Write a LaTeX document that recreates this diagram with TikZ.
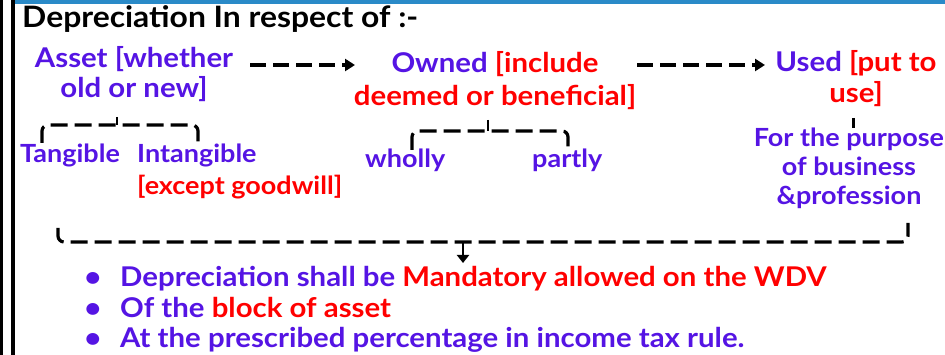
\documentclass[tikz,border=0pt]{standalone}
\usepackage{fontspec}
\setmainfont{Lato}[FakeStretch=1.08]
\usetikzlibrary{arrows.meta}
\definecolor{pur}{RGB}{85,20,228}
\definecolor{rd}{RGB}{255,0,0}
\definecolor{topbar}{RGB}{42,138,200}
\begin{document}
\begin{tikzpicture}[x=1pt,y=-1pt,
  txt/.style={inner sep=0pt,font=\bfseries\fontsize{27.2}{30}\selectfont},
  hdr/.style={inner sep=0pt,font=\bfseries\fontsize{29.5}{30}\selectfont},
  sml/.style={inner sep=0pt,font=\bfseries\fontsize{25}{28}\selectfont},
  dsh/.style={line width=3.2pt,dash pattern=on 16pt off 7pt},
  arr/.style={dsh,-{Triangle[length=10pt,width=12pt]}},
  brc/.style={line width=3.2pt,dash pattern=on 17pt off 7pt,rounded corners=6pt}]
\useasboundingbox (0,0) rectangle (945,355);
\fill[white] (0,0) rectangle (945,355);
\fill[topbar] (12,0) rectangle (945,4.5);
\fill[black] (0,0) rectangle (2.5,355);
\fill[black] (11,0) rectangle (15,355);
% header
\node[hdr,anchor=base west] (head) at (22,28) {Depreciation In respect of :-};
% asset
\node[txt,anchor=base,text=pur] (asset1) at (134,68) {Asset [whether};
\node[txt,anchor=base,text=pur] (asset2) at (134,98) {old or new]};
% owned
\node[txt,anchor=base] (owned1) at (495,73) {\textcolor{pur}{Owned} \textcolor{rd}{[include}};
\node[txt,anchor=base,text=rd] (owned2) at (495,106) {deemed or beneficial]};
% used
\node[txt,anchor=base] (used1) at (856,72) {\textcolor{pur}{Used} \textcolor{rd}{[put to}};
\node[txt,anchor=base,text=rd] (used2) at (856,103) {use]};
% purpose
\node[sml,anchor=base,text=pur] (purp1) at (849,147) {For the purpose};
\node[sml,anchor=base,text=pur] (purp2) at (849,176) {of business};
\node[sml,anchor=base,text=pur] (purp3) at (849,205) {\&profession};
% tangible
\node[sml,anchor=base west,text=pur] (tang) at (20,163) {Tangible};
\node[sml,anchor=base west,text=pur] (intang) at (137,163) {Intangible};
\node[sml,anchor=base west,text=rd] (except) at (137,195) {[except goodwill]};
% wholly partly
\node[sml,anchor=base west,text=pur] (wholly) at (365,168) {wholly};
\node[sml,anchor=base west,text=pur] (partly) at (532,168) {partly};
% arrows
\coordinate (a1s) at (250,65); \coordinate (a1e) at (355,65);
\coordinate (a2s) at (637,65); \coordinate (a2e) at (765,65);
\draw[arr] (a1s) -- (a1e);
\draw[arr] (a2s) -- (a2e);
% braces
\coordinate (b1l) at (42,143); \coordinate (b1r) at (198,143); \coordinate (b1t) at (117,117);
\draw[brc] (b1l) -- (42,125) -- (198,125) -- (b1r);
\draw[line width=2pt] (b1t) -- (117,125);
\coordinate (b2l) at (412,150); \coordinate (b2r) at (568,150); \coordinate (b2t) at (488,120);
\draw[brc] (b2l) -- (412,131) -- (568,131) -- (b2r);
\draw[line width=2pt] (b2t) -- (488,131);
\coordinate (t3a) at (853,118); \coordinate (t3b) at (853,128);
\draw[line width=3pt] (t3a) -- (t3b);
% big bracket
\coordinate (bbl) at (58,228); \coordinate (bbr) at (908,223);
\draw[brc] (bbl) -- (58,242) -- (908,242) -- (bbr);
\coordinate (dn1) at (463,242); \coordinate (dn2) at (463,263);
\draw[line width=2pt,-{Triangle[length=8pt,width=12pt]}] (dn1) -- (dn2);
% bullets
\foreach \y/\n in {287/d1,318/d2,348/d3}{
  \node[txt,anchor=base,text=pur] (\n) at (93,\y) {\textbullet};
}
\node[txt,anchor=base west,text=pur] (l1) at (120,287) {Depreciation shall be \textcolor{rd}{Mandatory allowed on the WDV}};
\node[txt,anchor=base west,text=pur] (l2) at (120,318) {Of the \textcolor{rd}{block of asset}};
\node[txt,anchor=base west,text=pur] (l3) at (120,348) {At the prescribed percentage in income tax rule.};
\end{tikzpicture}
\end{document}
